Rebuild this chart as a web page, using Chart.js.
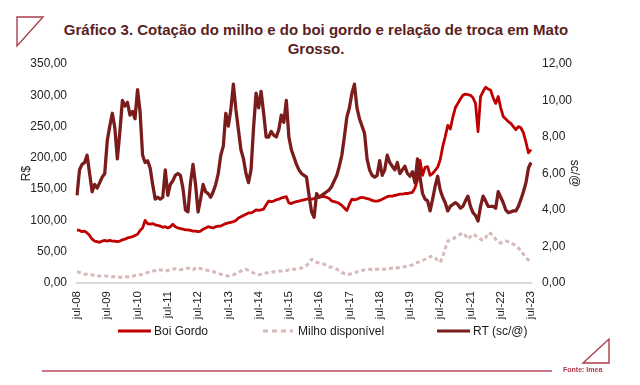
<!DOCTYPE html>
<html>
<head>
<meta charset="utf-8">
<script src="https://cdn.jsdelivr.net/npm/chart.js@4.4.1/dist/chart.umd.min.js"></script>
<style>
  html, body { margin: 0; padding: 0; background: #fff; }
  #wrap { position: relative; width: 640px; height: 385px; overflow: hidden; font-family: "Liberation Sans", Arial, sans-serif; }
  #chart { position: absolute; left: 0; top: 0; }
  .title { position: absolute; left: 0; width: 632px; text-align: center; font-weight: bold; font-size: 15px; color: #5b1e1e; line-height: 19px; }
  .leg { position: absolute; top: 324px; font-size: 12px; color: #1a1a1a; display: flex; align-items: center; white-space: nowrap; }
  .leg svg { margin-right: 2px; }
  .fonte { position: absolute; left: 563px; top: 366px; font-size: 7px; font-weight: bold; color: #b03848; }
</style>
</head>
<body>
<div id="wrap">
  <svg style="position:absolute;left:15px;top:15px" width="32" height="34">
    <polygon points="2,2 28,2 2,31" fill="none" stroke="#a8404c" stroke-width="1.4"/>
  </svg>
  <div class="title" style="top:20px">Gráfico 3. Cotação do milho e do boi gordo e relação de troca em Mato</div>
  <div class="title" style="top:39px">Grosso.</div>
  <canvas id="chart" width="640" height="385"></canvas>
  <div class="leg" style="left:118px">
    <svg width="34" height="6"><line x1="0" y1="3" x2="33" y2="3" stroke="#c00000" stroke-width="3"/></svg>Boi Gordo
  </div>
  <div class="leg" style="left:262px">
    <svg width="34" height="6"><line x1="1" y1="3" x2="31" y2="3" stroke="#d8b9b9" stroke-width="3" stroke-dasharray="5,4"/></svg>Milho disponível
  </div>
  <div class="leg" style="left:437px">
    <svg width="34" height="6"><line x1="0" y1="3" x2="33" y2="3" stroke="#7b1c1c" stroke-width="3"/></svg>RT (sc/@)
  </div>
  <div style="position:absolute;left:42px;top:370px;width:510px;height:2px;background:#c97a85"></div>
  <div class="fonte">Fonte: Imea</div>
  <svg style="position:absolute;left:581px;top:337px" width="30" height="28">
    <polygon points="2,26 28,26 28,2" fill="none" stroke="#b03a48" stroke-width="1.4"/>
  </svg>
</div>
<script>
// Monthly series, jul-08 .. jul-23
const monthNames = ['jan', 'fev', 'mar', 'abr', 'mai', 'jun', 'jul', 'ago', 'set', 'out', 'nov', 'dez'];
const firstYear = 2008;
const firstMonth = 6; // jul
const tickEvery = 12;

const boiGordo = [
  85, 84, 82, 83, 80, 76, 70, 67, 66, 65, 67, 68,
  67, 68, 67, 67, 66, 67, 69, 70, 72, 73, 74, 76,
  78, 84, 88, 100, 95, 94, 95, 93, 92, 91, 89, 90,
  88, 90, 94, 90, 88, 87, 86, 85, 85, 84, 83, 83,
  82, 83, 86, 88, 90, 89, 88, 90, 91, 91, 93, 95,
  96, 97, 98, 100, 104, 106, 108, 110, 112, 112, 114, 117,
  116, 117, 118, 125, 131, 130, 131, 133, 134, 136, 137, 138,
  128, 127, 129, 130, 131, 132, 133, 134, 134, 134, 135, 137,
  137, 138, 138, 137, 135, 131, 130, 129, 127, 124, 120, 116,
  126, 134, 133, 134, 136, 137, 136, 135, 134, 132, 131, 131,
  132, 134, 136, 138, 139, 139, 140, 141, 142, 142, 143, 143,
  144, 145, 152, 165, 196, 172, 185, 186, 172, 175, 180, 185,
  197, 218, 234, 252, 246, 265, 280, 287, 294, 300, 302, 301,
  300, 296, 287, 242, 298, 306, 313, 310, 308, 296, 287, 298,
  280, 266, 262, 258, 255, 250, 245, 250, 248, 240, 225, 208,
  213
];

const milho = [
  18, 17, 15, 14, 14, 13, 13, 12, 12, 11, 11, 11,
  11, 10, 10, 10, 9, 9, 9, 10, 10, 11, 11, 12,
  12, 13, 14, 15, 17, 18, 19, 20, 22, 21, 20, 19,
  20, 21, 22, 23, 22, 21, 22, 23, 24, 22, 21, 24,
  25, 23, 22, 21, 20, 19, 18, 17, 16, 14, 13, 12,
  11, 12, 13, 15, 17, 19, 21, 22, 20, 18, 16, 14,
  13, 14, 15, 16, 17, 17, 18, 18, 19, 19, 20, 20,
  21, 21, 22, 22, 23, 24, 26, 28, 32, 38, 35, 33,
  32, 31, 30, 28, 26, 25, 24, 22, 20, 17, 15, 14,
  14, 15, 16, 18, 19, 20, 21, 22, 22, 21, 21, 22,
  22, 22, 22, 23, 23, 24, 25, 24, 25, 26, 26, 27,
  28, 29, 31, 33, 34, 36, 38, 40, 42, 43, 40, 36,
  33, 42, 55, 67, 68, 70, 73, 75, 78, 80, 76, 70,
  74, 78, 76, 72, 70, 68, 72, 80, 79, 76, 70, 65,
  64, 66, 67, 66, 64, 62, 59, 56, 51, 46, 40, 37,
  35
];

// relação de troca (sc/@), right axis
const rt = [
  4.8, 6.2, 6.5, 6.6, 7.0, 6.0, 5.0, 5.4, 5.2, 5.5, 5.8, 6.0,
  7.8, 8.6, 9.3, 8.5, 6.8, 8.3, 10.0, 9.7, 9.9, 9.2, 9.4, 9.0,
  10.6, 9.4, 7.0, 6.6, 6.7, 6.3, 5.4, 4.6, 4.7, 4.6, 4.7, 6.2,
  4.8, 5.4, 5.6, 5.9, 6.0, 5.9, 5.2, 4.0, 3.9, 5.5, 6.5, 5.4,
  3.9, 4.6, 5.4, 5.0, 4.9, 4.7, 5.0, 5.4, 6.0, 7.0, 7.5, 9.3,
  8.6, 9.5, 10.9, 9.5, 8.4, 7.3, 6.8, 6.0, 5.5, 6.2, 8.5, 10.4,
  9.6, 10.5, 9.3, 8.0, 8.0, 8.3, 8.1, 8.0, 8.4, 9.2, 8.8, 10.0,
  8.0, 7.3, 6.9, 6.5, 6.2, 6.0, 5.9, 5.8, 4.8, 3.9, 3.6, 4.9,
  4.7, 4.8, 4.9, 5.0, 5.1, 5.3, 5.6, 5.9, 6.4, 7.0, 8.0, 9.1,
  9.6, 10.4, 10.9, 9.6, 9.0, 8.6, 8.2, 6.8, 6.2, 5.9, 5.8, 5.9,
  6.7, 5.9, 6.2, 7.0, 6.6, 6.4, 6.2, 6.6, 6.0, 6.2, 6.4, 6.0,
  5.85, 6.1, 5.5, 6.8, 5.8, 4.9, 4.6, 4.5, 3.95, 4.6, 5.3, 5.85,
  5.1, 4.7, 4.4, 3.95, 4.2, 4.3, 4.4, 4.3, 4.1, 4.2, 4.5, 4.76,
  4.2, 3.86, 3.7, 3.4, 4.2, 4.76, 4.5, 4.2, 4.2, 4.2, 4.1, 5.0,
  4.7, 4.4, 4.0, 3.86, 3.9, 3.95, 3.95, 4.2, 4.58, 5.0, 5.5, 6.3,
  6.6
];

const leftMax = 350, leftStep = 50;
const rightMax = 12, rightStep = 2;

// category labels: jul-08, ago-08, ...
const labels = boiGordo.map((_, i) => {
    const m = firstMonth + i;
    const yy = String((firstYear + Math.floor(m / 12)) % 100).padStart(2, '0');
    return monthNames[m % 12] + '-' + yy;
});

const fmt = v => v.toFixed(2).replace('.', ',');
const tickFont = { family: '"Liberation Sans", Arial, sans-serif', size: 12 };

new Chart(document.getElementById('chart'), {
    type: 'line',
    data: {
        labels: labels,
        datasets: [
            {
                label: 'RT (sc/@)', data: rt, yAxisID: 'y1', order: 0,
                borderColor: '#7b1c1c', borderWidth: 3.3
            },
            {
                label: 'Boi Gordo', data: boiGordo, yAxisID: 'y', order: 1,
                borderColor: '#c00000', borderWidth: 2.8
            },
            {
                label: 'Milho disponível', data: milho, yAxisID: 'y', order: 2,
                borderColor: '#d8b9b9', borderWidth: 3, borderDash: [4, 3]
            }
        ]
    },
    options: {
        responsive: false,
        animation: false,
        elements: { point: { radius: 0 }, line: { tension: 0, borderJoinStyle: 'round' } },
        layout: { padding: { left: 15, right: 54, top: 64, bottom: 60 } },
        plugins: { legend: { display: false }, tooltip: { enabled: false } },
        scales: {
            x: {
                grid: { display: false, drawTicks: false },
                border: { color: '#d9d9d9', width: 2 },
                afterFit: s => { s.height = 42; },
                ticks: {
                    autoSkip: false, minRotation: 90, maxRotation: 90, padding: 8,
                    color: '#222', font: { family: tickFont.family, size: 11.5 },
                    callback: function (v, i) { return i % tickEvery === 0 ? this.getLabelForValue(v) : ''; }
                }
            },
            y: {
                position: 'left', min: 0, max: leftMax,
                grid: { display: false, drawTicks: false },
                border: { display: false },
                afterFit: s => { s.width = 62; },
                ticks: { stepSize: leftStep, padding: 10, color: '#222', font: tickFont, callback: fmt },
                title: { display: true, text: 'R$', color: '#222', font: tickFont, padding: 4 }
            },
            y1: {
                position: 'right', min: 0, max: rightMax,
                grid: { display: false, drawTicks: false },
                border: { display: false },
                afterFit: s => { s.width = 55; },
                ticks: { stepSize: rightStep, padding: 11, color: '#222', font: tickFont, callback: fmt },
                title: { display: true, text: 'sc/@', color: '#222', font: tickFont, padding: 4 }
            }
        }
    }
});
</script>
</body>
</html>
